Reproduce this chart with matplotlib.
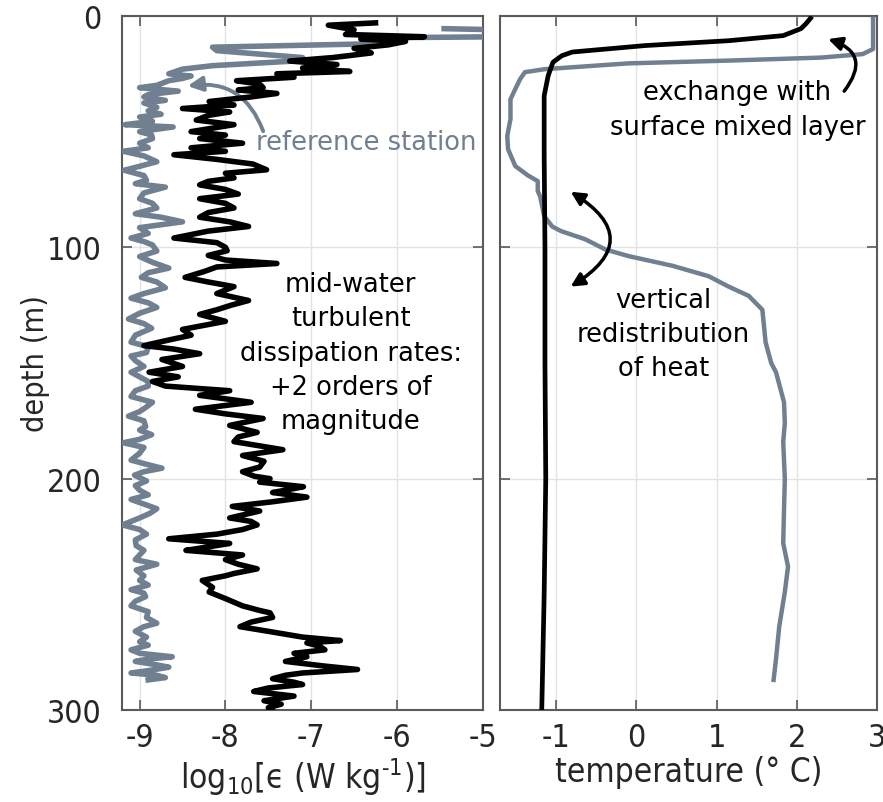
import matplotlib
matplotlib.use("Agg")
import matplotlib.pyplot as plt
from matplotlib.font_manager import FontProperties

plt.rcParams['font.family'] = ['DejaVu Sans']
plt.rcParams['mathtext.fontset'] = 'custom'
plt.rcParams['mathtext.rm'] = 'DejaVu Sans:stretch=condensed'
plt.rcParams['mathtext.it'] = 'DejaVu Sans:stretch=condensed'
plt.rcParams['mathtext.sf'] = 'DejaVu Sans:stretch=condensed'

GRAY = '#708090'
TXT = '#262626'

# ---- dissipation rate, station of interest (black) ----
eps_depth = [3, 4, 6, 8, 9, 10, 11, 12.5, 14, 16, 18, 19.5, 21, 22.5, 24, 25, 26.5, 28, 29.5, 31,
             32, 33.5, 35, 37, 38.5, 40, 41.5, 43, 45, 47, 48.5, 50, 51.5, 53, 55, 57, 58.5, 60, 62,
             64, 66.5, 68, 70, 71.5, 73, 75, 77, 79, 81, 83, 85, 87, 89, 91, 93, 96, 98, 100, 101.5,
             103.5, 105.5, 107, 108.5, 110.5, 113, 115, 117, 120, 123, 125, 127, 129, 132, 135.5,
             138, 140, 142.5, 144, 146, 148.5, 151.5, 154, 156, 158, 160, 162, 164, 167, 170, 172,
             174, 177, 180, 182, 184, 187.5, 190, 192.5, 195, 197, 199, 200, 201.5, 203.5, 205, 206,
             208, 210, 212, 214, 217, 218.5, 220, 222, 224, 226, 228, 229.5, 231, 233, 235, 237, 239,
             241, 242, 244, 247, 249, 252, 255, 257, 258, 260, 262, 264, 266, 268.5, 270, 271, 272.5,
             274, 275.5, 277, 279, 281, 282.5, 284, 285, 286.5, 288, 289, 290.5, 292, 294, 296,
             297.5, 299, 300.5]
eps_val = [-6.25, -6.8, -6.5, -6.6, -5.68, -6.42, -5.9, -6.1, -6.5, -6.3, -6.75, -7.25, -6.7, -7.1,
           -6.55, -7.4, -7.2, -7.87, -7.6, -7.56, -7.85, -7.4, -7.7, -8.19, -7.9, -8.5, -7.95, -8.2,
           -8.34, -7.9, -8.15, -8.4, -8.0, -8.3, -7.8, -8.4, -8.0, -8.6, -8.1, -7.68, -7.52, -8.0,
           -7.9, -8.2, -8.3, -8.0, -7.85, -8.3, -8.0, -7.9, -8.2, -8.3, -7.95, -7.73, -8.2, -8.6,
           -8.1, -8.0, -7.98, -8.2, -8.0, -7.4, -8.1, -8.25, -8.47, -8.2, -7.9, -8.1, -7.73, -7.93,
           -8.1, -8.3, -8.0, -8.5, -8.4, -8.65, -8.95, -8.6, -8.3, -8.74, -8.5, -8.89, -8.55, -8.85,
           -8.7, -7.95, -8.3, -7.7, -8.35, -8.0, -7.56, -7.95, -7.63, -7.85, -7.9, -7.33, -7.8,
           -7.55, -7.6, -7.8, -7.66, -7.48, -7.6, -7.09, -7.3, -7.45, -7.05, -7.45, -7.92, -7.6,
           -7.95, -7.7, -7.63, -7.8, -8.1, -8.66, -7.95, -8.2, -8.46, -7.8, -8.0, -7.85, -7.63,
           -7.9, -8.0, -8.27, -8.15, -8.19, -7.99, -7.8, -7.6, -7.48, -7.45, -7.7, -7.83, -7.5,
           -7.1, -6.66, -7.05, -6.9, -6.84, -7.2, -7.05, -7.3, -6.85, -6.46, -7.1, -7.3, -7.45,
           -7.2, -7.1, -7.5, -7.67, -7.2, -7.55, -7.35, -7.5, -7.45]

# ---- dissipation rate, reference station (gray) ----
ref_depth = [5.5, 6, 9, 9.5, 11, 12, 13.5, 15, 18, 19.5, 21.5, 23, 25, 26, 27, 28, 30, 31, 32.5, 34,
             35, 36.5, 37.6, 39.5, 41, 42.5, 43.7, 45.5, 47, 48, 50, 51.5, 53, 55, 57, 58.5, 60.5,
             63, 65, 66.7, 69, 71, 72.5, 74, 76.5, 79, 81, 83, 85.5, 87, 89, 91.5, 94, 96, 97.5, 99,
             101.6, 104, 106.5, 109, 111, 113, 115, 117.5, 120, 122, 124, 126, 128.5, 131, 133, 135,
             138, 141, 143, 145.5, 147, 149, 151.5, 154, 156, 158, 160, 162, 164.5, 167, 169, 171,
             173, 175, 177.5, 179, 181, 183, 184.5, 186.5, 189, 190.5, 192, 194, 195.5, 197, 198.5,
             201, 203, 205, 207, 209, 211, 213, 215, 217, 218.5, 220, 222, 224, 226.5, 229, 231, 233,
             235, 237, 239.5, 242, 244, 246, 248, 249.5, 251, 253, 255, 257.5, 260, 262.5, 264, 266,
             268.5, 270.5, 272, 274, 275.5, 277, 278, 279, 280.5, 281.5, 283, 284, 285, 286, 287]
ref_val = [-5.45, -4.8, -4.8, -6.42, -6.2, -6.25, -8.15, -8.1, -7.1, -7.2, -8.15, -8.5, -8.66, -8.4,
           -8.5, -8.66, -8.8, -9.0, -8.55, -8.9, -8.95, -8.7, -8.95, -8.8, -8.9, -8.75, -9.0, -8.85,
           -9.17, -8.61, -9.0, -8.86, -8.85, -9.0, -8.9, -9.19, -8.95, -8.8, -9.0, -9.18, -8.95,
           -8.92, -9.05, -8.7, -8.95, -9.0, -8.85, -8.8, -9.05, -8.75, -8.5, -9.0, -8.9, -9.1, -8.95,
           -8.85, -8.8, -9.0, -8.85, -8.66, -8.9, -8.98, -8.8, -8.7, -8.95, -9.1, -8.9, -8.8, -9.0,
           -9.13, -8.95, -8.86, -9.05, -9.1, -8.9, -8.92, -9.1, -9.05, -8.95, -9.1, -9.0, -8.9, -8.9,
           -9.05, -9.1, -8.85, -8.92, -9.0, -9.13, -8.95, -8.93, -9.0, -8.86, -9.0, -9.19, -8.95,
           -9.0, -9.05, -9.1, -8.9, -8.74, -8.95, -9.06, -8.92, -9.05, -9.0, -8.9, -9.1, -8.95, -8.8,
           -8.88, -9.0, -9.1, -9.2, -9.0, -8.92, -9.05, -9.04, -8.95, -9.0, -9.05, -8.8, -9.04, -8.95,
           -9.0, -8.9, -9.1, -8.95, -8.93, -9.05, -9.1, -8.9, -8.92, -8.8, -8.95, -9.05, -8.92, -9.0,
           -8.9, -9.1, -9.0, -8.62, -8.9, -9.05, -8.8, -8.66, -8.9, -9.1, -8.8, -8.7, -8.9]

# ---- temperature ----
temp_depth = [1, 3.5, 5.5, 8.5, 10.7, 12.8, 15.6, 17.2, 20, 25.8, 34.5, 60, 100, 150, 200, 250, 300]
temp_val = [2.17, 2.11, 2.05, 1.83, 1.15, 0.11, -0.8, -0.93, -1.04, -1.1, -1.15, -1.15, -1.14,
            -1.14, -1.13, -1.15, -1.18]

ref_temp_depth = [1.3, 14.3, 16.5, 18, 19.3, 20.5, 23, 24.3, 27.3, 31.6, 36, 44.6, 51.9, 57.6, 64.9,
                  69, 71.4, 75.7, 78, 86.5, 91, 93, 96.5, 100.9, 103.8, 108, 112.5, 117, 121, 127,
                  141, 150, 154, 167, 176, 184, 200, 213, 228, 238, 249, 264, 278, 287]
ref_temp_val = [2.95, 2.95, 2.82, 2.3, 1.15, -0.1, -1.14, -1.39, -1.45, -1.51, -1.57, -1.57, -1.61,
                -1.6, -1.51, -1.35, -1.23, -1.23, -1.2, -1.15, -1.05, -0.94, -0.64, -0.39, -0.1,
                0.45, 0.9, 1.15, 1.4, 1.57, 1.61, 1.68, 1.74, 1.84, 1.85, 1.83, 1.85, 1.84, 1.83,
                1.89, 1.85, 1.78, 1.74, 1.71]

eps_ticks = [-9, -8, -7, -6, -5]
temp_ticks = [-1, 0, 1, 2, 3]
depth_ticks = [0, 100, 200, 300]

COND_TICK = FontProperties(family='DejaVu Sans', stretch='condensed', size=23)
COND_LAB = FontProperties(family='DejaVu Sans', stretch='condensed', size=24)
COND_YLAB = FontProperties(family='DejaVu Sans', stretch='condensed', size=22)

fig = plt.figure(figsize=(8.83, 8.03), dpi=100)
ax1 = fig.add_axes([0.1387, 0.1146, 0.4080, 0.8643])
ax2 = fig.add_axes([0.5663, 0.1146, 0.4270, 0.8643])


def style(ax):
    ax.grid(True, color='#e3e3e3', linewidth=1.0)
    ax.set_axisbelow(True)
    for s in ax.spines.values():
        s.set_color('#5a5a5a')
        s.set_linewidth(1.5)
    ax.tick_params(direction='in', top=True, right=True, length=7, width=1.2,
                   color='#5a5a5a', labelcolor=TXT)
    ax.tick_params(axis='x', pad=9)
    ax.tick_params(axis='y', pad=15)
    ax.set_ylim(300, 0)
    ax.set_yticks(depth_ticks)


style(ax1)
style(ax2)

ax1.plot(ref_val, ref_depth, color=GRAY, lw=4, solid_joinstyle='round', zorder=3)
ax1.plot(eps_val, eps_depth, color='black', lw=4, solid_joinstyle='round', zorder=4)
ax1.set_xlim(-9.2, -5)
ax1.set_xticks(eps_ticks)
ax1.set_xticklabels([str(t) for t in eps_ticks], fontproperties=COND_TICK)
ax1.set_yticklabels([str(t) for t in depth_ticks], fontproperties=COND_TICK)
ax1.set_ylabel('depth (m)', fontproperties=COND_YLAB, color=TXT, labelpad=-2)
ax1.set_xlabel('log$_{10}$[\u03f5 (W kg$^{\\text{-1}}$)]', fontproperties=COND_LAB,
               color=TXT, labelpad=1)

ax1.text(-6.36, 54.5, 'reference station', color=GRAY, fontsize=18.5, ha='center', va='center')
ax1.annotate('', xy=(-8.44, 30.3), xytext=(-7.56, 49.8),
             arrowprops=dict(arrowstyle='-|>', color=GRAY, lw=2.8, mutation_scale=22,
                             connectionstyle='arc3,rad=0.4', shrinkA=0, shrinkB=0))
ax1.text(-6.54, 145.5, 'mid-water\nturbulent\ndissipation rates:\n+2 orders of\nmagnitude',
         fontsize=18.5, color='black', ha='center', va='center', linespacing=1.42)

ax2.plot(ref_temp_val, ref_temp_depth, color=GRAY, lw=3.2, zorder=3)
ax2.plot(temp_val, temp_depth, color='black', lw=3.4, zorder=4)
ax2.set_xlim(-1.7, 3)
ax2.set_xticks(temp_ticks)
ax2.set_xticklabels([str(t) for t in temp_ticks], fontproperties=COND_TICK)
ax2.set_yticklabels([])
ax2.set_xlabel('temperature (° C)', fontproperties=COND_LAB, color=TXT, labelpad=1)

ax2.text(1.26, 40.5, 'exchange with\nsurface mixed layer', fontsize=18.5, color='black',
         ha='center', va='center', linespacing=1.42)
ax2.annotate('', xy=(2.39, 10), xytext=(2.59, 32.5),
             arrowprops=dict(arrowstyle='-|>', color='black', lw=2.5, mutation_scale=20,
                             connectionstyle='arc3,rad=0.7', shrinkA=0, shrinkB=0))
ax2.text(0.34, 137.5, 'vertical\nredistribution\nof heat', fontsize=18.5, color='black',
         ha='center', va='center', linespacing=1.42)
ax2.annotate('', xy=(-0.82, 76), xytext=(-0.82, 117),
             arrowprops=dict(arrowstyle='<|-|>', color='black', lw=2.5, mutation_scale=20,
                             connectionstyle='arc3,rad=0.8', shrinkA=0, shrinkB=0))

fig.savefig('out.png', dpi=100)
